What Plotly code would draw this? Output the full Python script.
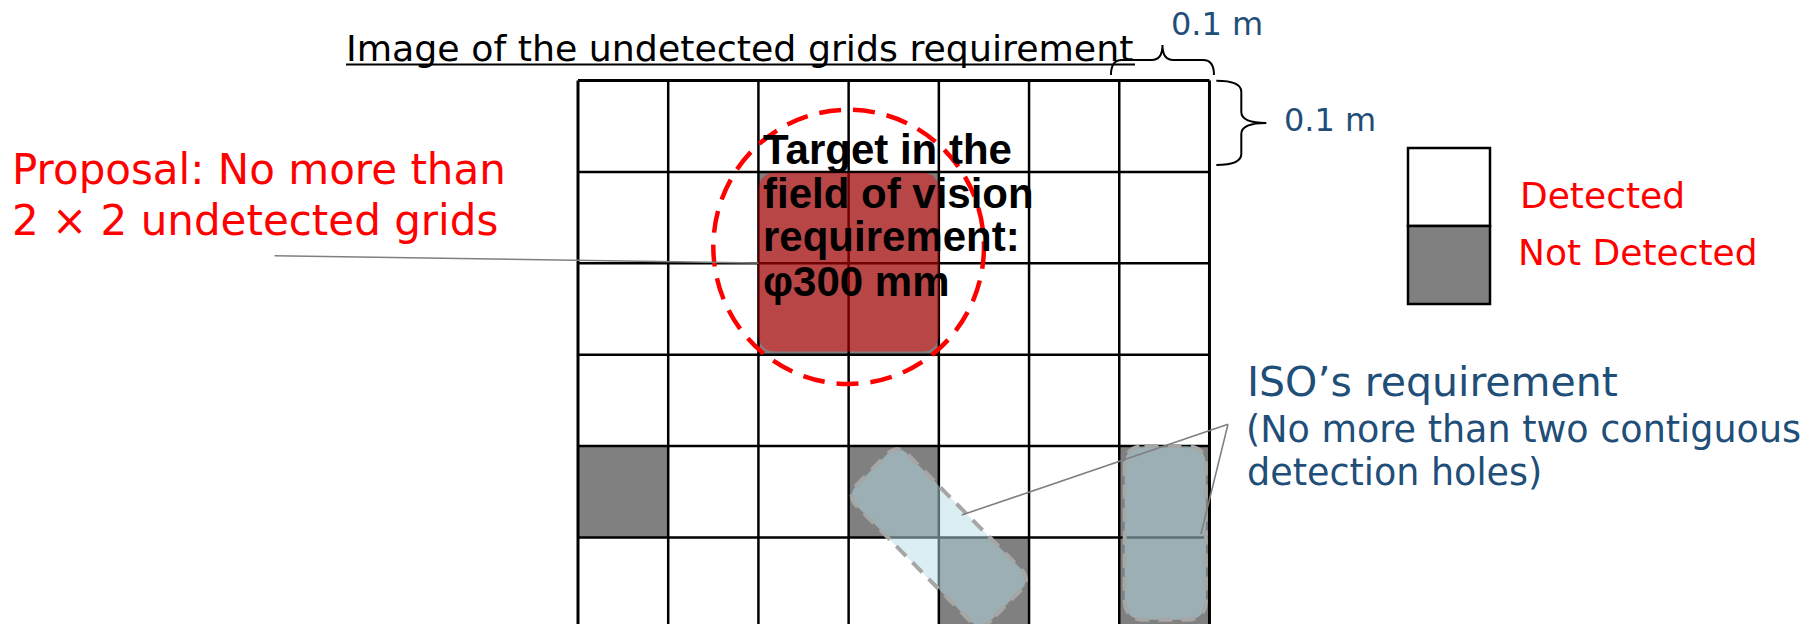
import math
import plotly.graph_objects as go

# ---------------- data ----------------
N_COLS = 7
N_ROWS = 7
CELL_M = 0.1                      # each grid cell is 0.1 m x 0.1 m
undetected_rows = [1, 1, 2, 2, 4, 4, 4, 5, 5]
undetected_cols = [2, 3, 2, 3, 0, 3, 6, 4, 6]
target_center = (0.3, 0.182)      # m
target_diameter = 0.3             # m  (phi 300 mm)
proposal_rows = [1, 2]            # 2 x 2 block
proposal_cols = [2, 3]
iso_diag_center = (0.4, 0.5)
iso_diag_half_len = 0.105
iso_diag_half_wid = 0.04
iso_vert_x = [0.606, 0.696]
iso_vert_y = [0.40, 0.59]

title_text = "Image of the undetected grids requirement"
proposal_lines = ["Proposal: No more than", "2 × 2 undetected grids"]
target_lines = ["Target in the", "field of vision", "requirement:", "φ300 mm"]
dim_label = "0.1 m"
legend_labels = ["Detected", "Not Detected"]
iso_lines = ["ISO’s requirement", "(No more than two contiguous", "detection holes)"]

# ---------------- layout helpers ----------------
OFF = 0                           # body margin removed by post_script
W, H = 1820, 624
X0_PX, Y0_PX = 578.0, 80.5        # pixel of grid origin
PX_PER_M_X, PX_PER_M_Y = 902.1, 914.0
x_range = [-X0_PX / PX_PER_M_X, (W - X0_PX) / PX_PER_M_X]
y_range = [(H - Y0_PX) / PX_PER_M_Y, -Y0_PX / PX_PER_M_Y]   # reversed

BLUE = "#1F4E79"
RED = "#FF0000"
GREY = "#808080"

def px(xp):
    return (xp - OFF) / W

def py(yp):
    return 1 - (yp - OFF) / H

shapes = []
annotations = []

# grey (undetected) cells
for r, c in zip(undetected_rows, undetected_cols):
    shapes.append(dict(type="rect", xref="x", yref="y",
                       x0=c * CELL_M, x1=(c + 1) * CELL_M,
                       y0=r * CELL_M, y1=(r + 1) * CELL_M,
                       fillcolor=GREY, line=dict(width=0), layer="above"))

# grid lines
for c in range(N_COLS + 1):
    w = 3 if c in (0, N_COLS) else 2.5
    shapes.append(dict(type="line", xref="x", yref="y",
                       x0=c * CELL_M, x1=c * CELL_M, y0=0, y1=N_ROWS * CELL_M,
                       line=dict(color="black", width=w)))
for r in range(N_ROWS + 1):
    w = 3 if r == 0 else 2.5
    shapes.append(dict(type="line", xref="x", yref="y",
                       x0=0, x1=N_COLS * CELL_M, y0=r * CELL_M, y1=r * CELL_M,
                       line=dict(color="black", width=w)))


def rounded_rect_path(x0, x1, y0, y1, rx, ry):
    return (f"M {x0+rx},{y0} L {x1-rx},{y0} Q {x1},{y0} {x1},{y0+ry} "
            f"L {x1},{y1-ry} Q {x1},{y1} {x1-rx},{y1} L {x0+rx},{y1} "
            f"Q {x0},{y1} {x0},{y1-ry} L {x0},{y0+ry} Q {x0},{y0} {x0+rx},{y0} Z")


def rotated_rounded_rect_path(cx, cy, hl, hw, ang, r):
    ux, uy = math.cos(ang), math.sin(ang)
    vx, vy = -uy, ux

    def P(a, b):
        return (cx + a * ux + b * vx, cy + a * uy + b * vy)

    def toward(a, b, d):
        dx, dy = b[0] - a[0], b[1] - a[1]
        L = math.hypot(dx, dy)
        return (a[0] + dx / L * d, a[1] + dy / L * d)

    corners = [(hl, hw), (-hl, hw), (-hl, -hw), (hl, -hw)]
    n = len(corners)
    path = ""
    for i in range(n):
        prev = corners[i - 1]
        cur = corners[i]
        nxt = corners[(i + 1) % n]
        A = P(*toward(cur, prev, r))
        C = P(*cur)
        B = P(*toward(cur, nxt, r))
        path += ("M " if i == 0 else "L ") + f"{A[0]},{A[1]} "
        path += f"Q {C[0]},{C[1]} {B[0]},{B[1]} "
    return path + "Z"

# red proposal block (semi-transparent over grey cells)
px0 = min(proposal_cols) * CELL_M
px1 = (max(proposal_cols) + 1) * CELL_M
py0 = min(proposal_rows) * CELL_M + 0.001
py1 = (max(proposal_rows) + 1) * CELL_M - 0.0035
shapes.append(dict(type="path", xref="x", yref="y",
                   path=rounded_rect_path(px0, px1, py0, py1, 0.02, 0.02),
                   fillcolor="rgba(252,0,0,0.45)", line=dict(width=0)))

# ISO requirement shapes (light blue, dashed grey outline)
iso_fill = "rgba(181,221,231,0.5)"
iso_line = dict(color="#A6A6A6", width=4, dash="14px,9px")
shapes.append(dict(type="path", xref="x", yref="y",
                   path=rotated_rounded_rect_path(iso_diag_center[0], iso_diag_center[1],
                                                  iso_diag_half_len, iso_diag_half_wid,
                                                  math.radians(45), 0.017),
                   fillcolor=iso_fill, line=iso_line))
shapes.append(dict(type="path", xref="x", yref="y",
                   path=rounded_rect_path(iso_vert_x[0], iso_vert_x[1],
                                          iso_vert_y[0], iso_vert_y[1], 0.022, 0.022),
                   fillcolor=iso_fill, line=iso_line))

# target circle (dashed red)
rad = target_diameter / 2
shapes.append(dict(type="circle", xref="x", yref="y",
                   x0=target_center[0] - rad, x1=target_center[0] + rad,
                   y0=target_center[1] - rad, y1=target_center[1] + rad,
                   line=dict(color=RED, width=4.5, dash="22px,12px")))

# leader lines
lead = dict(color="#7F7F7F", width=1.6)
shapes.append(dict(type="line", xref="x", yref="y",
                   x0=-0.3364, y0=0.1917, x1=px0, y1=0.1997, line=lead))
apex = (0.7205, 0.3762)
shapes.append(dict(type="line", xref="x", yref="y",
                   x0=apex[0], y0=apex[1], x1=0.4254, y1=0.4754, line=lead))
shapes.append(dict(type="line", xref="x", yref="y",
                   x0=apex[0], y0=apex[1], x1=0.6906, y1=0.4962, line=lead))

# dimension braces for one cell (column 6 / row 0)
def hbrace(x0, x1, y_end, y_line, y_tip, r):
    xm = (x0 + x1) / 2
    return (f"M {x0},{y_end} Q {x0},{y_line} {x0+r},{y_line} L {xm-r},{y_line} "
            f"Q {xm},{y_line} {xm},{y_tip} Q {xm},{y_line} {xm+r},{y_line} "
            f"L {x1-r},{y_line} Q {x1},{y_line} {x1},{y_end}")

def vbrace(y0, y1, x_end, x_line, x_tip, r):
    ym = (y0 + y1) / 2
    return (f"M {x_end},{y0} Q {x_line},{y0} {x_line},{y0+r} L {x_line},{ym-r} "
            f"Q {x_line},{ym} {x_tip},{ym} Q {x_line},{ym} {x_line},{ym+r} "
            f"L {x_line},{y1-r} Q {x_line},{y1} {x_end},{y1}")

bc = 6 * CELL_M
shapes.append(dict(type="path", xref="x", yref="y",
                   path=hbrace(bc - 0.0092, bc + CELL_M + 0.005, -0.006, -0.0224, -0.0388, 0.012),
                   line=dict(color="black", width=2)))
shapes.append(dict(type="path", xref="x", yref="y",
                   path=vbrace(0.0003, CELL_M - 0.0075, N_COLS * CELL_M + 0.0076,
                               N_COLS * CELL_M + 0.0353, N_COLS * CELL_M + 0.063, 0.012),
                   line=dict(color="black", width=2)))

# legend box
shapes.append(dict(type="rect", xref="paper", yref="paper",
                   x0=px(1408), x1=px(1490), y0=py(226), y1=py(148),
                   fillcolor="white", line=dict(color="black", width=2.5)))
shapes.append(dict(type="rect", xref="paper", yref="paper",
                   x0=px(1408), x1=px(1490), y0=py(304), y1=py(226),
                   fillcolor=GREY, line=dict(color="black", width=2.5)))

# title underline
shapes.append(dict(type="line", xref="paper", yref="paper",
                   x0=px(346), x1=px(1135), y0=py(64.5), y1=py(64.5),
                   line=dict(color="black", width=2)))

# ---------------- texts ----------------
def add_text(text, xl, yc, size, color, family="DejaVu Sans", bold=False):
    t = f"<b>{text}</b>" if bold else text
    annotations.append(dict(text=t, xref="paper", yref="paper",
                            x=px(xl - 2), y=py(yc), xanchor="left", yanchor="middle",
                            showarrow=False,
                            font=dict(size=size, color=color, family=family)))

add_text(title_text, 346, 48.2, 36.3, "black")
add_text(proposal_lines[0], 12, 169.5, 42, RED)
add_text(proposal_lines[1], 12, 220.5, 42, RED)
for t, yc in zip(target_lines, [149.1, 193.1, 236.8, 281.8]):
    add_text(t, 763, yc, 42, "black", family="Liberation Sans", bold=True)
add_text(dim_label, 1171, 23.9, 32, BLUE)
add_text(dim_label, 1284, 119.6, 32, BLUE)
add_text(legend_labels[0], 1520, 195.8, 36, RED)
add_text(legend_labels[1], 1518, 252.5, 36, RED)
add_text(iso_lines[0], 1247, 381.5, 41, BLUE)
add_text(iso_lines[1], 1246, 429.5, 36.5, BLUE)
add_text(iso_lines[2], 1247, 472.5, 36.5, BLUE)

fig = go.Figure()
fig.update_layout(
    width=W, height=H,
    margin=dict(l=0, r=0, t=0, b=0, pad=0),
    paper_bgcolor="white", plot_bgcolor="white",
    xaxis=dict(range=x_range, visible=False, showgrid=False, zeroline=False, fixedrange=True),
    yaxis=dict(range=y_range, visible=False, showgrid=False, zeroline=False, fixedrange=True),
    shapes=shapes, annotations=annotations, showlegend=False,
)
fig.write_html("out.html", config={"displayModeBar": False},
               post_script="document.body.style.margin='0';document.body.style.overflow='hidden';")
